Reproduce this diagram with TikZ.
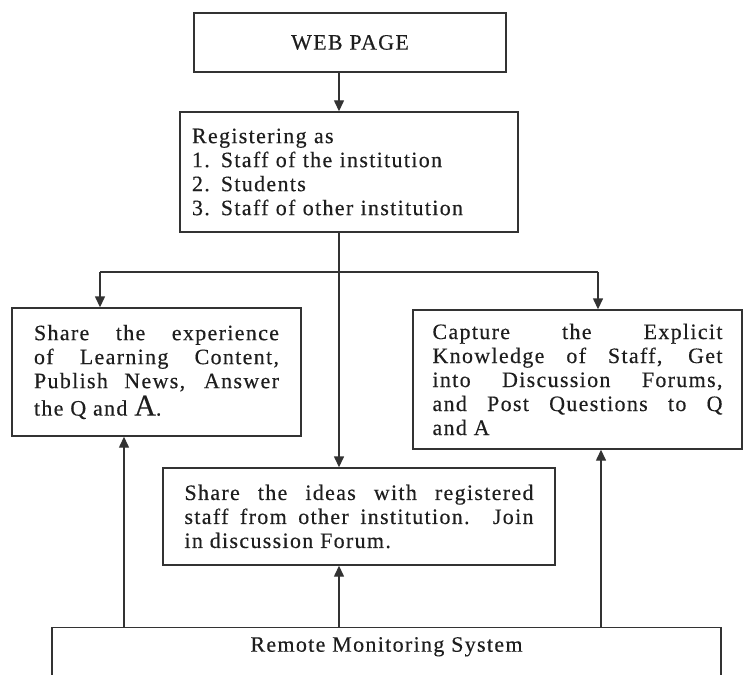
\documentclass[tikz,border=0pt]{standalone}
\usepackage{fontspec}
\setmainfont{Liberation Serif}[LetterSpace=6,FakeBold=0.3]
\usetikzlibrary{arrows.meta}
\definecolor{ink}{HTML}{1E1E1E}
\definecolor{edge}{HTML}{333333}
\tikzset{
  box/.style={draw=edge, line width=1.4pt, fill=white, rectangle, inner xsep=0pt, inner ysep=4pt,
    text=ink, font=\fontsize{22}{24}\selectfont},
  jbox/.style={box, align=justify},
  arr/.style={draw=edge, line width=1.4pt, -{Triangle[width=10pt,length=11pt]}},
  ln/.style={draw=edge, line width=1.4pt},
}
\begin{document}
\begin{tikzpicture}[x=1pt,y=-1pt]
\useasboundingbox (0,0) rectangle (743,674);
\node[box, minimum width=312, minimum height=59] (web) at (350,42.5) {WEB PAGE};
\node[box, minimum width=338, minimum height=120, text width=314, align=left] (reg) at (349,172)
  {Registering as\\1. Staff of the institution\\2. Students\\3. Staff of other institution};
\node[jbox, minimum width=289, minimum height=128, text width=245] (left) at (156.5,372)
  {Share the experience\linebreak of Learning Content,\linebreak Publish News, Answer\linebreak \rule{0pt}{23pt}the Q and {\fontsize{30}{30}\selectfont A}.};
\node[jbox, minimum width=329, minimum height=139, text width=290] (right) at (577.5,379.5)
  {Capture the Explicit\linebreak Knowledge of Staff, Get\linebreak into Discussion Forums,\linebreak and Post Questions to Q\linebreak and A};
\node[jbox, minimum width=392, minimum height=97, text width=349] (mid) at (359,516.5)
  {Share the ideas with registered\linebreak staff from other institution. Join\linebreak in discussion Forum.};
\node[box, anchor=north, minimum width=669, inner ysep=6pt, text height=18pt, text depth=40pt] (rms) at (386.5,627)
  {Remote Monitoring System};
\coordinate (jL) at (100,272);
\coordinate (jM) at (339,272);
\coordinate (jR) at (598,272);
\coordinate (uL) at (124,600);
\coordinate (uR) at (601,600);
\draw[arr] (web.south -| jM) -- (reg.north -| jM);
\draw[ln] (reg.south -| jM) -- (jM);
\draw[ln] (jL) -- (jR);
\draw[arr] (jL) -- (left.north -| jL);
\draw[arr] (jR) -- (right.north -| jR);
\draw[arr] (jM) -- (mid.north -| jM);
\draw[arr] (rms.north -| uL) -- (left.south -| uL);
\draw[arr] (rms.north -| jM) -- (mid.south -| jM);
\draw[arr] (rms.north -| uR) -- (right.south -| uR);
\end{tikzpicture}
\end{document}
